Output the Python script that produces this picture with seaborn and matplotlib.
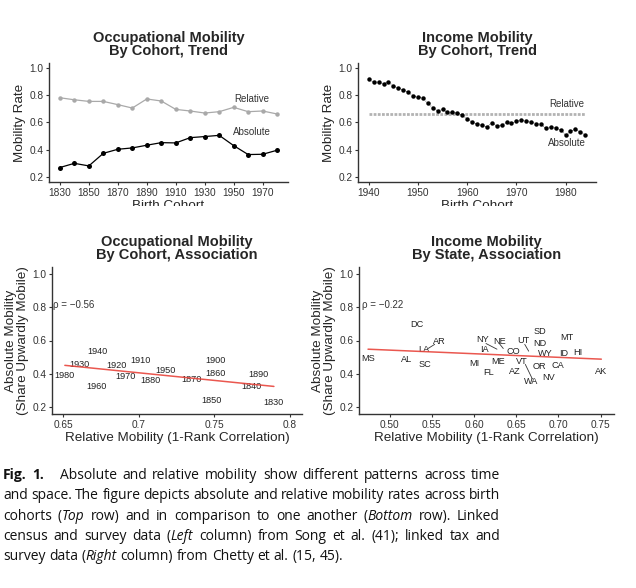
import re
import matplotlib
matplotlib.use("Agg")
import matplotlib.pyplot as plt
import seaborn as sns
from matplotlib.patches import Rectangle

# ---------------- data ----------------
occ_years = [1830, 1840, 1850, 1860, 1870, 1880, 1890, 1900,
             1910, 1920, 1930, 1940, 1950, 1960, 1970, 1980]
occ_relative = [0.783, 0.768, 0.756, 0.756, 0.732, 0.707, 0.774, 0.759,
                0.697, 0.685, 0.670, 0.680, 0.712, 0.680, 0.685, 0.663]
occ_absolute = [0.267, 0.298, 0.279, 0.372, 0.402, 0.412, 0.432, 0.451,
                0.449, 0.488, 0.496, 0.505, 0.429, 0.363, 0.365, 0.395]

inc_years = list(range(1940, 1985))
inc_absolute = [0.919, 0.897, 0.899, 0.887, 0.902, 0.867, 0.857, 0.840, 0.825, 0.798,
                0.786, 0.783, 0.742, 0.710, 0.685, 0.697, 0.675, 0.675, 0.673, 0.653,
                0.628, 0.604, 0.587, 0.579, 0.567, 0.594, 0.577, 0.579, 0.601, 0.594,
                0.609, 0.616, 0.614, 0.606, 0.591, 0.587, 0.557, 0.569, 0.557, 0.545,
                0.505, 0.537, 0.550, 0.530, 0.505]
inc_rel_years = [1940, 1984]
inc_relative = [0.66, 0.66]

cohort_labels = ["1940", "1930", "1980", "1960", "1920", "1970", "1910", "1880",
                 "1950", "1870", "1900", "1860", "1850", "1890", "1840", "1830"]
cohort_rel = [0.6725, 0.6604, 0.651, 0.6718, 0.685, 0.691, 0.7012, 0.7076,
              0.7175, 0.7352, 0.751, 0.751, 0.7484, 0.779, 0.7744, 0.7894]
cohort_abs = [0.536, 0.457, 0.390, 0.323, 0.451, 0.384, 0.481, 0.362,
              0.423, 0.364, 0.483, 0.404, 0.240, 0.394, 0.327, 0.226]
occ_rho = "ρ = −0.56"

state_labels = ["DC", "AR", "LA", "MS", "AL", "SC", "NY", "NE", "IA", "CO", "UT",
                "SD", "ND", "MT", "WY", "ID", "HI", "MI", "ME", "VT", "OR", "CA",
                "FL", "AZ", "WA", "NV", "AK"]
state_rel = [0.5324, 0.5592, 0.540, 0.4743, 0.5197, 0.5423, 0.6098, 0.6303, 0.6126,
             0.6461, 0.6580, 0.6777, 0.6777, 0.7105, 0.6848, 0.7058, 0.7235, 0.6007,
             0.6283, 0.6560, 0.6777, 0.6987, 0.6177, 0.6481, 0.6679, 0.6884, 0.7508]
state_abs = [0.694, 0.597, 0.544, 0.492, 0.485, 0.457, 0.607, 0.597, 0.544,
             0.536, 0.601, 0.654, 0.585, 0.615, 0.524, 0.524, 0.528, 0.463,
             0.473, 0.477, 0.443, 0.453, 0.409, 0.413, 0.354, 0.378, 0.413]
# label leader segments (label end -> point end)
seg_x0 = [0.5454, 0.6141, 0.6303, 0.6600, 0.6607]
seg_y0 = [0.552, 0.582, 0.579, 0.577, 0.457]
seg_x1 = [0.5533, 0.6271, 0.6346, 0.6647, 0.6690]
seg_y1 = [0.577, 0.548, 0.552, 0.536, 0.370]
state_rho = "ρ = −0.22"

y_ticks = [0.2, 0.4, 0.6, 0.8, 1.0]
y_ticklabels = ["0.2", "0.4", "0.6", "0.8", "1.0"]

caption = [
    "^Fig.^ ^1.^ Absolute and relative mobility show different patterns across time",
    "and space. The figure depicts absolute and relative mobility rates across birth",
    "cohorts (_Top_ row) and in comparison to one another (_Bottom_ row). Linked",
    "census and survey data (_Left_ column) from Song et al. (41); linked tax and",
    "survey data (_Right_ column) from Chetty et al. (15, 45).",
]

# ---------------- style ----------------
sns.set_style("ticks")
plt.rcParams["font.family"] = ["Liberation Sans", "DejaVu Sans"]
AX_COL = "#333333"
GREY = "#a9a9a9"
RED = "#e8453c"

fig = plt.figure(figsize=(6.36, 5.88), dpi=100)
FW, FH = 636, 588


def px_axes(l, t, r, b):
    return fig.add_axes([l / FW, 1 - b / FH, (r - l) / FW, (b - t) / FH])


def style(ax, title, xlabel, ylabel):
    ax.set_title(title, fontsize=10.5, fontweight="bold", pad=5.5, linespacing=0.95)
    ax.set_xlabel(xlabel, fontsize=9.7, labelpad=1.5)
    ax.set_ylabel(ylabel, fontsize=9.7, labelpad=2.5, linespacing=1.0)
    ax.set_ylim(0.16, 1.04)
    ax.set_yticks(y_ticks)
    ax.set_yticklabels(y_ticklabels)
    ax.tick_params(labelsize=7.3, length=2.5, width=0.8, pad=1.5,
                   color=AX_COL, labelcolor=AX_COL)
    for s in ["top", "right"]:
        ax.spines[s].set_visible(False)
    for s in ["left", "bottom"]:
        ax.spines[s].set_color(AX_COL)
        ax.spines[s].set_linewidth(1.0)


ax1 = px_axes(49, 63, 288, 182)
ax2 = px_axes(358, 63, 596, 182)
ax3 = px_axes(52, 267, 302, 414)
ax4 = px_axes(359, 267, 614, 414)

# ---- panel 1 ----
sns.lineplot(x=occ_years, y=occ_relative, color=GREY, lw=0.9, marker="o",
             markersize=3.2, markeredgewidth=0, ax=ax1)
sns.lineplot(x=occ_years, y=occ_absolute, color="black", lw=0.9, marker="o",
             markersize=3.6, markeredgewidth=0, ax=ax1)
ax1.text(1962.5, 0.777, "Relative", ha="center", va="center", fontsize=7, color=AX_COL)
ax1.text(1962.5, 0.528, "Absolute", ha="center", va="center", fontsize=7, color=AX_COL)
ax1.set_xlim(1822.5, 1987.5)
ax1.set_xticks(list(range(1830, 1980, 20)))
style(ax1, "Occupational Mobility\nBy Cohort, Trend", "Birth Cohort", "Mobility Rate")

# ---- panel 2 ----
sns.lineplot(x=inc_rel_years, y=inc_relative, color="#b3b3b3", lw=2.0,
             linestyle=(0, (1.0, 0.5)), ax=ax2)
sns.lineplot(x=inc_years, y=inc_absolute, color="black", lw=0.5,
             linestyle=(0, (1, 1.5)), marker="o", markersize=3.2,
             markeredgewidth=0, ax=ax2)
ax2.text(1980.2, 0.734, "Relative", ha="center", va="center", fontsize=7, color=AX_COL)
ax2.text(1980.2, 0.446, "Absolute", ha="center", va="center", fontsize=7, color=AX_COL)
ax2.set_xlim(1937.8, 1986.2)
ax2.set_xticks([1940, 1950, 1960, 1970, 1980])
style(ax2, "Income Mobility\nBy Cohort, Trend", "Birth Cohort", "Mobility Rate")

# ---- panel 3 ----
sns.regplot(x=cohort_rel, y=cohort_abs, scatter=False, ci=None, color=RED,
            line_kws={"lw": 1.1, "alpha": 0.9, "zorder": 3}, ax=ax3)
for lab, xv, yv in zip(cohort_labels, cohort_rel, cohort_abs):
    ax3.text(xv, yv, lab, ha="center", va="center", fontsize=6.6, color="#222222", zorder=2)
ax3.text(0.643, 0.81, occ_rho, ha="left", va="center", fontsize=7, color=AX_COL)
ax3.set_xlim(0.6425, 0.808)
ax3.set_xticks([0.65, 0.7, 0.75, 0.8])
ax3.set_xticklabels(["0.65", "0.7", "0.75", "0.8"])
style(ax3, "Occupational Mobility\nBy Cohort, Association",
      "Relative Mobility (1-Rank Correlation)",
      "Absolute Mobility\n(Share Upwardly Mobile)")

# ---- panel 4 ----
sns.regplot(x=state_rel, y=state_abs, scatter=False, ci=None, color=RED,
            line_kws={"lw": 1.1, "alpha": 0.9, "zorder": 3}, ax=ax4)
for lab, xv, yv in zip(state_labels, state_rel, state_abs):
    ax4.text(xv, yv, lab, ha="center", va="center", fontsize=6.6, color="#222222", zorder=2)
for a, b, c, d in zip(seg_x0, seg_y0, seg_x1, seg_y1):
    ax4.plot([a, c], [b, d], color="#333333", lw=0.6)
ax4.text(0.4672, 0.813, state_rho, ha="left", va="center", fontsize=7, color=AX_COL)
ax4.set_xlim(0.4636, 0.7658)
ax4.set_xticks([0.50, 0.55, 0.60, 0.65, 0.70, 0.75])
ax4.set_xticklabels(["0.50", "0.55", "0.60", "0.65", "0.70", "0.75"])
style(ax4, "Income Mobility\nBy State, Association",
      "Relative Mobility (1-Rank Correlation)",
      "Absolute Mobility\n(Share Upwardly Mobile)")

# clipped bottom of the top row (as in the source figure)
fig.add_artist(Rectangle((0, 1 - 224 / FH), 1, 18 / FH, transform=fig.transFigure,
                         facecolor="white", edgecolor="none", zorder=10))

# ---------------- caption ----------------
CAP_FONT = ["Open Sans", "DejaVu Sans"]
CAP_SIZE = 10.0
renderer = fig.canvas.get_renderer()


def pieces(word):
    out = []
    for p in re.split(r"(_[^_]*_|\^[^^]*\^)", word):
        if not p:
            continue
        if p.startswith("_"):
            out.append((p[1:-1], "italic", "normal"))
        elif p.startswith("^"):
            out.append((p[1:-1], "normal", "bold"))
        else:
            out.append((p, "normal", "normal"))
    return out


def place_word(word, x, y):
    arts = []
    cx = x
    for txt, st, wt in pieces(word):
        t = fig.text(cx / FW, 1 - y / FH, txt, fontsize=CAP_SIZE, family=CAP_FONT,
                     style=st, weight=wt, va="baseline", ha="left", color="#111111")
        w = t.get_window_extent(renderer).width
        arts.append(t)
        cx += w
    return arts, cx - x


space_t = fig.text(0, 0, "a a", fontsize=CAP_SIZE, family=CAP_FONT)
aa_t = fig.text(0, 0, "aa", fontsize=CAP_SIZE, family=CAP_FONT)
space_w = space_t.get_window_extent(renderer).width - aa_t.get_window_extent(renderer).width
space_t.remove()
aa_t.remove()

x_left, x_right = 3, 500
for i, line in enumerate(caption):
    y = 479 + i * 20.3
    words = line.split(" ")
    placed = []
    total = 0
    for w in words:
        arts, width = place_word(w, 0, y)
        placed.append((arts, width))
        total += width
    weights = [3 if w == "^1.^" else 1 for w in words[:-1]]
    last = i == len(caption) - 1
    gap = space_w if last else max((x_right - x_left - total) / sum(weights), 0.6 * space_w)
    cx = x_left
    for j, (arts, width) in enumerate(placed):
        off = cx
        for t in arts:
            t.set_x(t.get_position()[0] + off / FW)
        cx += width + (gap * weights[j] if j < len(weights) else 0)

fig.savefig("out.png", dpi=100)
